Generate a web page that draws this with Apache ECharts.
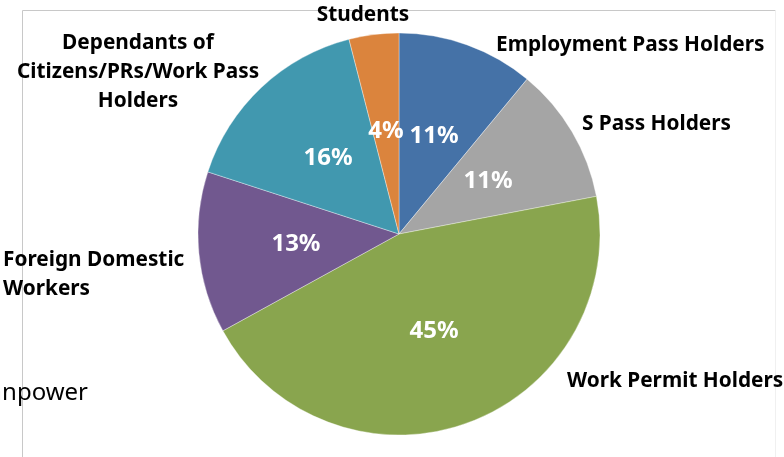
<!DOCTYPE html>
<html>
<head>
<meta charset="utf-8">
<script src="https://cdn.jsdelivr.net/npm/echarts@6/dist/echarts.min.js"></script>
<style>html,body{margin:0;padding:0;background:#fff;}#c{width:784px;height:457px;}</style>
</head>
<body>
<div id="c"></div>
<script>
const categories = ['Employment Pass Holders', 'S Pass Holders', 'Work Permit Holders', 'Foreign Domestic Workers', 'Dependants of Citizens/PRs/Work Pass Holders', 'Students'];
const labelTexts = ['Employment Pass Holders', 'S Pass Holders', 'Work Permit Holders', 'Foreign Domestic\nWorkers', 'Dependants of\nCitizens/PRs/Work Pass\nHolders', 'Students'];
const shares = [11, 11, 45, 13, 16, 4];
const colors = ['#4572A7', '#A5A5A5', '#89A54E', '#71588F', '#4198AF', '#DB843D'];
const labelAnchors = [[496, 45, 'left'], [582, 124, 'left'], [567, 381, 'left'], [3, 275, 'left'], [138, 72, 'center'], [363, 15, 'center']];

const chart = echarts.init(document.getElementById('c'), null, {renderer: 'canvas'});
const FONT = 'Noto Sans';
const pieData = categories.map((c, i) => ({name: c, value: shares[i], itemStyle: {color: colors[i]}}));
const outerData = categories.map((c, i) => ({name: c, value: shares[i]}));

chart.setOption({
  animation: false,
  backgroundColor: '#fff',
  graphic: [
    {type: 'line', shape: {x1: 22.5, y1: 10.5, x2: 775.5, y2: 10.5}, style: {stroke: '#c8c8c8', lineWidth: 1}},
    {type: 'line', shape: {x1: 22.5, y1: 10.5, x2: 22.5, y2: 457}, style: {stroke: '#c8c8c8', lineWidth: 1}},
    {type: 'line', shape: {x1: 775.5, y1: 10.5, x2: 775.5, y2: 457}, style: {stroke: '#f0f0f0', lineWidth: 1}},
    {type: 'text', z: 10, style: {text: 'Source: Ministry of Manpower', x: 88, y: 393, align: 'right', verticalAlign: 'middle', font: '24px "' + FONT + '"', fill: '#000'}}
  ],
  series: [
    {
      type: 'pie',
      center: [399, 234],
      radius: [0, 201],
      startAngle: 90,
      clockwise: true,
      silent: true,
      data: pieData,
      itemStyle: {borderColor: 'rgba(255,255,255,0.45)', borderWidth: 0.8},
      label: {show: true, position: 'inside', formatter: '{c}%', color: '#fff', fontFamily: FONT, fontWeight: 'bold', fontSize: 24},
      labelLine: {show: false}
    },
    {
      type: 'pie',
      center: [399, 234],
      radius: [0, 201],
      startAngle: 90,
      clockwise: true,
      silent: true,
      z: 3,
      data: outerData,
      itemStyle: {color: 'rgba(0,0,0,0)', borderWidth: 0},
      label: {
        show: true, position: 'outside', overflow: 'none',
        formatter: p => labelTexts[p.dataIndex],
        color: '#000', fontFamily: FONT, fontWeight: 'bold', fontSize: 20.8, lineHeight: 29
      },
      labelLine: {show: false},
      labelLayout: p => {
        const a = labelAnchors[p.dataIndex];
        return {x: a[0], y: a[1], align: a[2], verticalAlign: 'middle', hideOverlap: false, moveOverlap: false};
      }
    }
  ]
});
</script>
</body>
</html>
